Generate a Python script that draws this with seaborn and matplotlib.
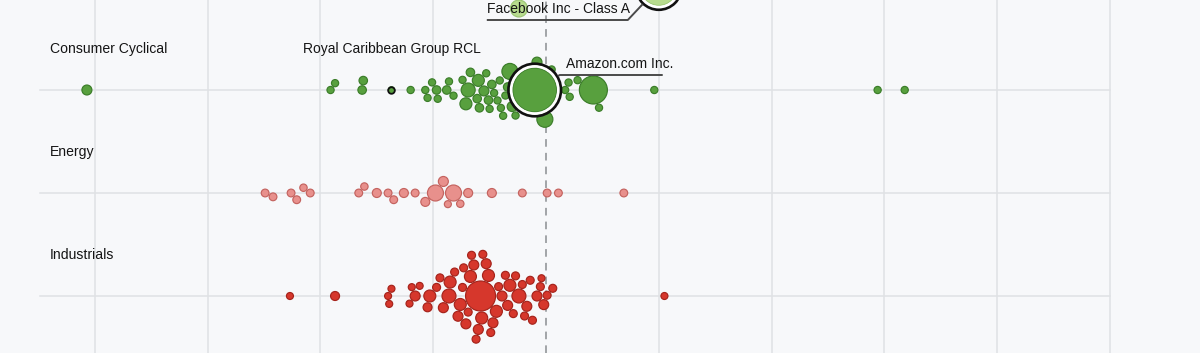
import numpy as np
import pandas as pd
import matplotlib
matplotlib.use("Agg")
import matplotlib.pyplot as plt
import seaborn as sns

# ==========================================================
# Data: 1 year return (%) and market cap ($B) per company
# ==========================================================

sectors = ["Communication Services", "Consumer Cyclical", "Energy", "Industrials"]
sector_labels = ["", "Consumer Cyclical", "Energy", "Industrials"]

comm_ret = [10.0, -2.4, -2.4, -2.4, -0.6]
comm_cap = [950, 400, 300, 200, 100]
comm_names = ["Facebook Inc - Class A", "", "", "", ""]

cyc_ret = [-40.7, -19.1, -18.7, -16.3, -16.2, -13.7, -12.0, -10.7, -10.5, -10.1,
           -9.7, -9.6, -8.8, -8.6, -8.2, -7.4, -7.1, -6.9, -6.7, -6.1,
           -6.0, -5.9, -5.5, -5.3, -5.1, -5.0, -4.8, -4.6, -4.3, -4.1,
           -4.0, -3.8, -3.6, -3.4, -3.2, -3.0, -2.7, -0.8, -1.0, -0.1,
           0.5, 1.7, 2.0, 2.1, 2.8, 4.2, 4.7, 9.6, 29.4, 31.8]
cyc_cap = [69, 36, 36, 50, 50, 30, 36, 36, 36, 36,
           50, 36, 50, 36, 36, 36, 100, 136, 50, 50,
           100, 50, 69, 36, 50, 36, 50, 36, 36, 36,
           36, 36, 36, 50, 178, 69, 36, 69, 1344, 178,
           36, 36, 36, 36, 36, 545, 36, 36, 36, 36]
cyc_names = [""] * 5 + ["Royal Caribbean Group RCL"] + [""] * 32 + ["Amazon.com Inc."] + [""] * 11

energy_ret = [-24.9, -24.2, -22.6, -22.1, -21.5, -20.9, -16.6, -16.1, -15.0, -14.0,
              -13.5, -12.6, -11.6, -10.7, -9.8, -9.1, -8.7, -8.2, -7.6, -6.9,
              -4.8, -2.1, 0.1, 1.1, 6.9]
energy_cap = [42, 42, 42, 42, 38, 42, 42, 38, 56, 42,
              42, 56, 42, 56, 178, 69, 34, 178, 38, 56,
              56, 42, 42, 42, 42]

ind_ret = [-22.7, -18.7, -14.0, -13.9, -13.7, -12.1, -11.9, -11.6, -11.2, -10.5,
           -10.3, -9.7, -9.4, -9.1, -8.6, -8.5, -8.1, -7.8, -7.6, -7.4,
           -7.3, -7.1, -6.9, -6.7, -6.6, -6.4, -6.2, -6.0, -5.8, -5.7,
           -5.6, -5.3, -5.1, -4.9, -4.7, -4.4, -4.2, -3.9, -3.6, -3.4,
           -3.2, -2.9, -2.7, -2.4, -2.1, -1.9, -1.7, -1.4, -1.2, -0.8,
           -0.5, -0.4, -0.2, 0.1, 0.6, 10.5]
ind_cap = [34, 56, 34, 34, 34, 34, 34, 69, 34, 56,
           100, 44, 44, 69, 136, 100, 44, 69, 100, 44,
           44, 69, 44, 100, 44, 69, 44, 69, 625, 100,
           44, 69, 100, 44, 69, 100, 44, 69, 44, 69,
           100, 44, 44, 136, 44, 44, 69, 44, 44, 69,
           44, 34, 69, 44, 44, 34]

fills = {"Communication Services": "#b7db8e", "Consumer Cyclical": "#58a03e",
         "Energy": "#e8908c", "Industrials": "#d6372c"}
edges = {"Communication Services": "#9cc674", "Consumer Cyclical": "#3b7d29",
         "Energy": "#c4635f", "Industrials": "#a5231b"}

# ==========================================================
# Layout helpers (pixel scale of the frame)
# ==========================================================

PX_X = 11.28      # pixels per 1 % of return
PX_ROW = 103.0    # pixels between sector rows
K = 0.6           # bubble radius (px) per sqrt($B)


def swarm(ret, cap):
    # greedy beeswarm: big bubbles first, each one as close to the row as it fits
    x = np.array(ret) * PX_X
    r = K * np.sqrt(np.array(cap)) + 0.5
    ys = np.zeros(len(x))
    placed = []
    for n, i in enumerate(np.argsort(-r, kind="stable")):
        cands = [0.0]
        for j in placed:
            dx = x[i] - x[j]
            d = r[i] + r[j]
            if abs(dx) < d:
                h = np.sqrt(d * d - dx * dx)
                cands += [ys[j] - h, ys[j] + h]
        flip = 1 if n % 2 == 0 else -1
        cands.sort(key=lambda c: (round(abs(c), 3), flip * c))
        for c in cands:
            if all((x[i] - x[j]) ** 2 + (c - ys[j]) ** 2 >= (r[i] + r[j]) ** 2 - 1e-6 for j in placed):
                ys[i] = c
                break
        placed.append(i)
    return ys / PX_ROW


frames = []
for k, (sec, ret, cap) in enumerate([(sectors[0], comm_ret, comm_cap),
                                     (sectors[1], cyc_ret, cyc_cap),
                                     (sectors[2], energy_ret, energy_cap),
                                     (sectors[3], ind_ret, ind_cap)]):
    d = pd.DataFrame({"sector": sec, "ret": ret, "cap": cap})
    d["row"] = k + swarm(ret, cap)
    frames.append(d)
df = pd.concat(frames, ignore_index=True)
df["name"] = comm_names + cyc_names + [""] * (len(energy_ret) + len(ind_ret))

# ==========================================================
# Plot
# ==========================================================

plt.rcParams['font.family'] = ['Liberation Sans', 'DejaVu Sans']
fig = plt.figure(figsize=(12, 3.53), dpi=100)
fig.patch.set_facecolor("#f7f8fa")
ax = fig.add_axes([0, 0, 1, 1])
ax.set_facecolor("#f7f8fa")

x0 = -546 / PX_X
ax.set_xlim(x0, x0 + 1200 / PX_X)
ax.set_ylim((353 + 13) / PX_ROW, 13 / PX_ROW)


def to_px(x, y):
    return 546 + x * PX_X, -13 + y * PX_ROW


def to_data(px, py):
    return (px - 546) / PX_X, (py + 13) / PX_ROW


for g in range(-40, 60, 10):
    if g == 0:
        ax.axvline(0, color="#8a8d91", lw=1.1, ls=(0, (5, 4)), zorder=1)
    else:
        ax.axvline(g, color="#dfe1e5", lw=1.1, zorder=0)
for k in range(len(sectors)):
    ax.plot([to_data(40, 0)[0], 50], [k, k], color="#dfe1e5", lw=1.1, zorder=0)
    if sector_labels[k]:
        ax.text(to_data(50, 0)[0], k - 41 / PX_ROW, sector_labels[k],
                fontsize=10.1, color="#151515", va="center", ha="left")

smax = (2 * K * 0.72) ** 2 * 1600
for sec in sectors:
    sub = df[df.sector == sec].sort_values("cap", ascending=False)
    sns.scatterplot(data=sub, x="ret", y="row", size="cap", sizes=(0, smax),
                    size_norm=(0, 1600), color=fills[sec], edgecolor=edges[sec],
                    linewidth=0.85, legend=False, ax=ax, zorder=3)

# highlighted companies: white + black ring
for _, p in df[df.name != ""].iterrows():
    r = K * np.sqrt(p.cap)
    if r > 10:
        ax.scatter([p.ret], [p.row], s=(2 * (r + 1.8) * 0.72) ** 2, facecolor="none",
                   edgecolor="white", linewidth=2.2, zorder=4)
        ax.scatter([p.ret], [p.row], s=(2 * (r + 4.3) * 0.72) ** 2, facecolor="none",
                   edgecolor="#111111", linewidth=1.9, zorder=5)
    else:
        ax.scatter([p.ret], [p.row], s=(2 * r * 0.72) ** 2, facecolor=fills[p.sector],
                   edgecolor="#111111", linewidth=1.3, zorder=5)

# callouts
for _, p in df[df.name != ""].iterrows():
    cx, cy = to_px(p.ret, p.row)
    r = K * np.sqrt(p.cap)
    if r <= 10:
        tx, ty = to_data(cx, cy - 41)
        ax.text(tx, ty, p["name"], fontsize=10, color="#151515", ha="center", va="center")
        continue
    if p.ret > 5:
        # label to the lower left
        ex, ey = cx - 31, cy + 33
        lx0, lx1 = ex - 141, ex
        tx = lx0
    else:
        ex, ey = cx + 25, cy - 15
        lx0, lx1 = ex, ex + 103
        tx = lx0 + 6
    v = np.array([ex - cx, ey - cy])
    v = v / np.hypot(*v) * (r + 5)
    pts = [(cx + v[0], cy + v[1]), (ex, ey)]
    pts += [(lx0, ey)] if lx0 != ex else [(lx1, ey)]
    xs, ys = zip(*[to_data(a, b) for a, b in pts])
    ax.plot(xs, ys, color="#4a4a4a", lw=1.4, zorder=6, solid_capstyle="butt")
    t = to_data(tx, ey - 11)
    ax.text(t[0], t[1], p["name"], fontsize=10, color="#151515", ha="left", va="center", zorder=6)

ax.axis("off")
fig.savefig("out.png", dpi=100, facecolor=fig.get_facecolor())
